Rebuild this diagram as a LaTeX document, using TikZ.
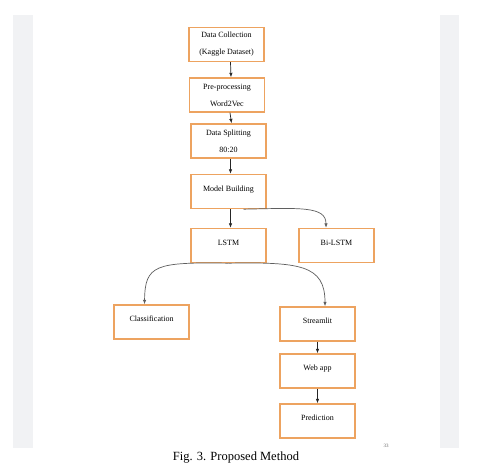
\documentclass[tikz,border=0pt]{standalone}
\usepackage{fontspec}
\setmainfont{Liberation Serif}
\usepackage{tikz}
\usetikzlibrary{arrows.meta, positioning, calc}
\definecolor{boxorange}{RGB}{237, 163, 96}
\definecolor{stripgray}{RGB}{241, 242, 244}
\definecolor{linegray}{RGB}{95, 95, 95}

\begin{document}
\begin{tikzpicture}[
    x=1pt, y=-1pt,
    box/.style={rectangle, draw=boxorange, line width=1.4pt, minimum width=75pt, minimum height=34pt, inner sep=0pt, align=center, font=\fontsize{8}{17}\selectfont},
    onebox/.style={box, text depth=6pt},
    arr/.style={-{Latex[length=4.5pt, width=3.5pt]}, line width=0.7pt, #1},
    arr/.default=black!85
]

% page background and side strips
\useasboundingbox (0,0) rectangle (479,473);
\fill[white] (0,0) rectangle (479,473);
\fill[stripgray] (13,15) rectangle (33,448);
\fill[stripgray] (440,15) rectangle (459,448);

% Main column
\node[box] (dc) at (226.5, 44.5) {Data Collection\\(Kaggle Dataset)};
\node[box] (pp) at (227, 95) {Pre-processing\\Word2Vec};
\node[box] (ds) at (228.5, 141) {Data Splitting\\80:20};
\node[onebox] (mb) at (228.5, 191.5) {Model Building};
% Models
\node[onebox] (lstm) at (228.5, 245.5) {LSTM};
\node[onebox] (bi) at (336.5, 245.5) {Bi-LSTM};
% Outputs
\node[onebox] (cls) at (151.5, 322) {Classification};
\node[onebox] (st) at (317.5, 324) {Streamlit};
\node[onebox] (web) at (317.5, 371) {Web app};
\node[onebox] (pr) at (317.5, 421) {Prediction};

% Straight arrows
\draw[arr] ([xshift=4pt]dc.south) -- ([xshift=4pt]pp.north);
\draw[arr] ([xshift=3pt]pp.south) -- ([xshift=3pt]ds.north);
\draw[arr] ([xshift=2pt]ds.south) -- ([xshift=2pt]mb.north);
\draw[arr] ([xshift=2pt]mb.south) -- ([xshift=2pt]lstm.north);
\draw[arr] (st) -- (web);
\draw[arr] (web) -- (pr);
% Curved branches
\draw[arr=linegray] ([xshift=15pt]mb.south) .. controls (300,208) and (326,206) .. ([xshift=-10.5pt]bi.north);
\draw[arr=linegray] (lstm.south) .. controls (155,262) and (145,265) .. ([xshift=-7pt]cls.north);
\draw[arr=linegray] (lstm.south) .. controls (300,262) and (325,265) .. ([xshift=7.5pt]st.north);

% Caption
\node[font=\fontsize{12.5}{14}\selectfont] (cap) at (236, 458) {Fig. 3. Proposed Method};
\node[font=\fontsize{5}{5}\selectfont, text=black!60] (pg) at (386, 446) {33};

\end{tikzpicture}
\end{document}
